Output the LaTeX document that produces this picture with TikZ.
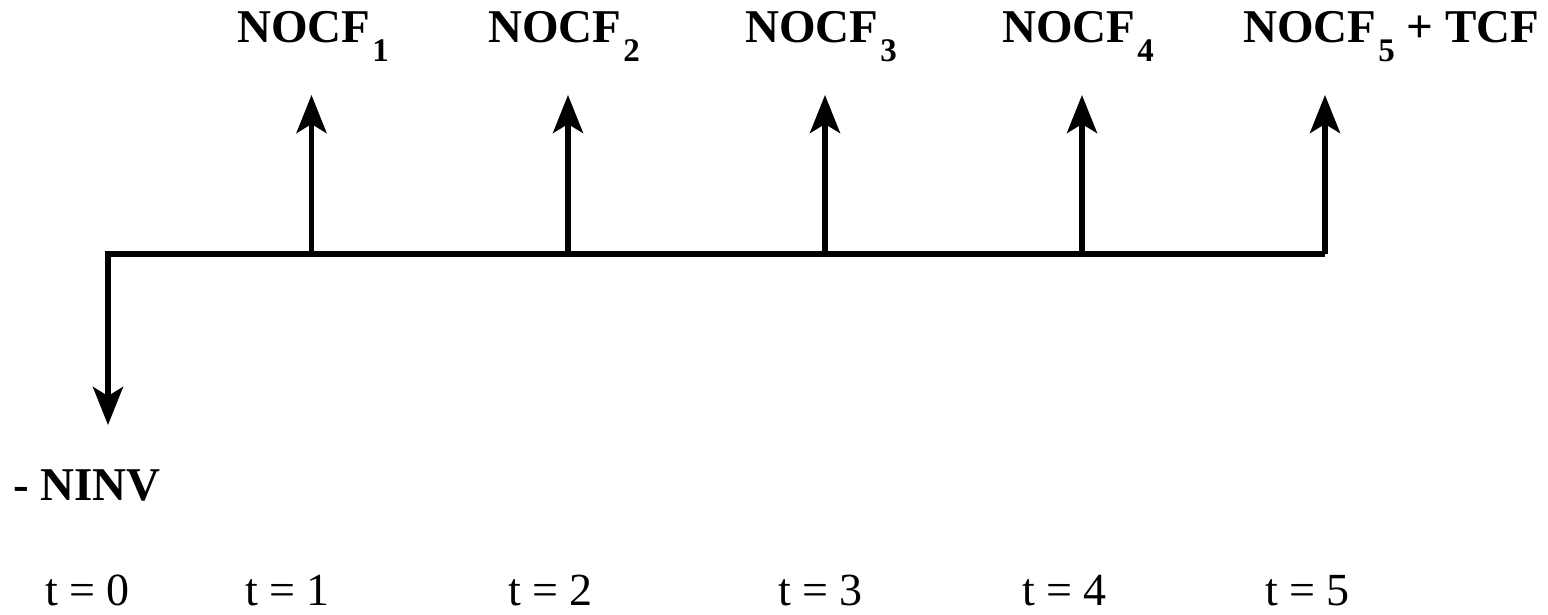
\documentclass[tikz,border=0pt]{standalone}
\usepackage{fontspec}
\setmainfont{Liberation Serif}
\usetikzlibrary{arrows.meta}

% subscript index, set smaller and lowered below the baseline
\newcommand{\cfsub}[1]{\kern2pt\raisebox{-19pt}{\fontsize{33}{33}\selectfont #1}}

\begin{document}
\begin{tikzpicture}[x=1pt,y=-1pt,
  flow/.style={line width=5.5pt,-{Stealth[length=38pt,width=30pt,inset=9pt]}},
  axis/.style={line width=5.5pt,line join=miter},
  cflabel/.style={anchor=base west,inner sep=0pt,font=\fontsize{47}{50}\selectfont\bfseries},
  timelabel/.style={anchor=base west,inner sep=0pt,font=\fontsize{46}{50}\selectfont}]
  \useasboundingbox (0,0) rectangle (1548,615);

  % points on the time axis
  \coordinate (a0) at (108,254);
  \coordinate (a1) at (311.5,254);
  \coordinate (a2) at (568,254);
  \coordinate (a3) at (825,254);
  \coordinate (a4) at (1082,254);
  \coordinate (a5) at (1325,254);

  % arrow tips
  \coordinate (d0) at (108,425);
  \coordinate (u1) at (311.5,95);
  \coordinate (u2) at (568,95);
  \coordinate (u3) at (825,95);
  \coordinate (u4) at (1082,95);
  \coordinate (u5) at (1325,95);

  % axis and initial outflow
  \draw[axis] (a5) -- (a0);
  \draw[flow,line join=miter] (a5) -- (a0) -- (d0);

  % operating inflows
  \foreach \i in {1,...,5}
    \draw[flow] (a\i) -- (u\i);

  % cash-flow labels
  \node[cflabel] (c1) at (237,43) {NOCF\cfsub{1}};
  \node[cflabel] (c2) at (488,43) {NOCF\cfsub{2}};
  \node[cflabel] (c3) at (745,43) {NOCF\cfsub{3}};
  \node[cflabel] (c4) at (1002,43) {NOCF\cfsub{4}};
  \node[cflabel] (c5) at (1243,43) {NOCF\cfsub{5} + TCF};
  \node[cflabel] (c0) at (13,500) {- NINV};

  % period labels
  \node[timelabel] (t0) at (45,605) {t = 0};
  \node[timelabel] (t1) at (245,605) {t = 1};
  \node[timelabel] (t2) at (508,605) {t = 2};
  \node[timelabel] (t3) at (778,605) {t = 3};
  \node[timelabel] (t4) at (1022,605) {t = 4};
  \node[timelabel] (t5) at (1265,605) {t = 5};
\end{tikzpicture}
\end{document}
